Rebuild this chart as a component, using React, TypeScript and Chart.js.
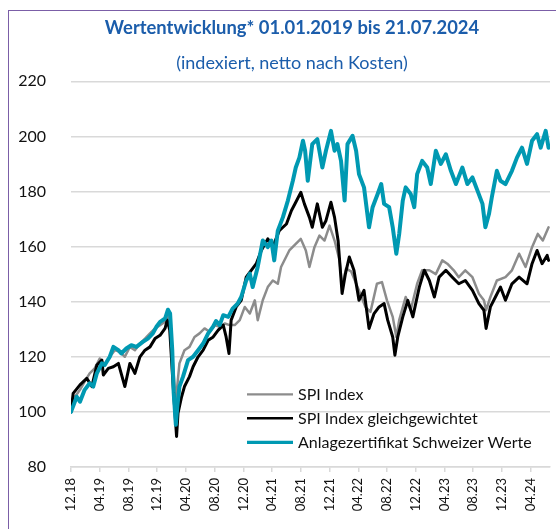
import { useEffect, useRef } from "react";
import { Chart, registerables } from "chart.js";

Chart.register(...registerables);

// Axis ticks (months since 31.12.2018)
const tickMonths = [0, 4, 8, 12, 16, 20, 24, 28, 32, 36, 40, 44, 48, 52, 56, 60, 64];
const tickLabels = ["12.18", "04.19", "08.19", "12.19", "04.20", "08.20", "12.20", "04.21", "08.21", "12.21", "04.22", "08.22", "12.22", "04.23", "08.23", "12.23", "04.24"];

// SPI Index
const spiMonths = [0, 0.55, 1.25, 1.9, 2.6, 3.3, 4.0, 4.7, 5.4, 6.1, 6.8, 7.5, 8.2, 8.9, 9.6, 10.3, 11.0, 11.7, 12.4, 13.1, 13.5, 13.9, 14.4, 14.6, 15.1, 15.8, 16.5, 17.2, 17.9, 18.6, 19.3, 20.0, 20.7, 21.4, 22.1, 22.8, 23.5, 24.2, 24.9, 25.6, 26.0, 26.7, 27.4, 28.1, 28.8, 29.25, 30.4, 31.3, 32.0, 32.7, 33.2, 33.9, 34.6, 35.3, 36.0, 36.7, 37.4, 37.75, 38.3, 39.0, 40.1, 41.0, 41.7, 42.6, 43.3, 44.0, 44.8, 45.3, 45.7, 46.6, 47.3, 48.2, 48.9, 49.9, 50.8, 51.7, 52.4, 53.3, 54.0, 54.9, 55.9, 56.8, 57.5, 57.8, 58.4, 59.3, 60.5, 61.4, 62.4, 63.3, 64.2, 65.0, 65.7, 66.5];
const spiValues = [100, 105.5, 108, 111, 114, 115.8, 119.4, 117, 120, 122.4, 121.8, 120, 123.6, 122.4, 124.8, 126.6, 128.5, 130.3, 131.5, 132.7, 135.7, 127.2, 110.4, 104, 117.6, 122.4, 123.6, 127.2, 128.5, 130.3, 129.1, 131.5, 130.9, 132.1, 131.5, 131.5, 133.3, 138.1, 135.7, 140.5, 133.3, 140.5, 145.3, 147.7, 146.5, 152.6, 158.6, 161, 162.8, 158.6, 152.6, 159.8, 164, 162.2, 167.6, 162.2, 155, 145.3, 152, 151, 144.1, 138.1, 136.3, 146.5, 147.1, 140.5, 134.5, 127.2, 133.3, 141.7, 136.9, 146.5, 151.4, 151.4, 150, 155, 153.8, 151.4, 148.9, 151.4, 148.9, 142.9, 140.5, 136.9, 141.7, 147.7, 148.9, 151.4, 157.4, 152.6, 159.8, 164.6, 162.2, 167];

// SPI Index gleichgewichtet
const equalMonths = [0, 0.3, 1.25, 2.2, 2.9, 3.6, 4.3, 4.5, 5.2, 5.9, 6.6, 7.5, 8.2, 8.9, 9.6, 10.3, 11.0, 11.7, 12.4, 13.1, 13.4, 13.75, 14.2, 14.7, 14.9, 15.4, 15.8, 16.5, 17.0, 17.7, 18.4, 19.1, 19.8, 20.5, 21.2, 21.6, 22.0, 22.3, 23.0, 23.7, 24.4, 25.1, 25.8, 26.5, 27.4, 28.1, 29.0, 30.0, 30.7, 31.3, 32.0, 32.5, 33.2, 33.6, 34.3, 35.0, 35.5, 36.2, 36.7, 37.2, 37.75, 38.2, 38.75, 39.4, 40.1, 40.8, 41.5, 42.2, 42.9, 43.6, 44.1, 44.8, 45.1, 45.5, 46.2, 46.9, 47.6, 48.5, 49.2, 49.9, 50.6, 51.25, 52.2, 53.1, 54.0, 54.9, 55.9, 56.8, 57.5, 57.8, 58.4, 59.1, 59.8, 60.5, 61.4, 62.4, 63.5, 64.2, 64.9, 65.6, 66.3, 66.5];
const equalValues = [100, 106.7, 109.8, 112.2, 109.2, 117, 118.8, 113.4, 115.8, 116.4, 117.6, 109.2, 117.6, 114, 120, 122.4, 123.6, 126.6, 127.8, 130.3, 133.3, 129.7, 110.4, 91.1, 99.5, 105.5, 109.2, 112.8, 116.4, 120, 122.4, 126, 127.2, 129.7, 131.5, 127.2, 121.2, 133.3, 138.1, 140.5, 148.9, 151.4, 153.8, 158.6, 162.8, 159.8, 165.8, 168.2, 173.1, 176.1, 179.7, 175.5, 170.6, 167, 175.5, 167, 169.4, 176.1, 170.6, 162, 143, 150, 156.2, 151.4, 140.5, 144.1, 130.3, 135.7, 138.1, 139.3, 133.3, 127.2, 120.6, 127.2, 134.5, 140.5, 134.5, 145.3, 151.4, 147.7, 141.7, 148.9, 151.4, 148.9, 146.5, 147.7, 144.1, 139.3, 136.9, 130.3, 138.1, 141.7, 145.3, 140.5, 146.5, 148.9, 146.5, 153.8, 158.6, 153.8, 156.8, 155];

// Anlagezertifikat Schweizer Werte
const certMonths = [0, 0.8, 1.25, 1.9, 2.6, 3.1, 3.6, 4.3, 4.7, 5.4, 5.9, 6.6, 7.0, 7.7, 8.4, 9.1, 10.0, 10.7, 11.4, 11.9, 12.4, 13.1, 13.5, 13.8, 14.1, 14.3, 14.6, 14.8, 15.1, 15.6, 16.3, 17.0, 17.7, 18.4, 19.1, 19.8, 20.2, 20.7, 21.2, 21.9, 22.5, 23.2, 23.7, 24.4, 24.9, 25.3, 26.0, 26.7, 27.4, 27.9, 28.3, 28.8, 29.5, 30.2, 30.9, 31.3, 31.8, 32.3, 32.6, 32.97, 33.6, 34.3, 35.0, 35.5, 36.2, 36.7, 37.1, 37.6, 38.1, 38.5, 39.2, 39.7, 40.1, 40.8, 41.5, 42.0, 42.7, 43.2, 43.6, 44.3, 44.8, 45.3, 45.7, 46.2, 46.6, 47.3, 47.8, 48.2, 48.9, 49.6, 50.1, 50.8, 51.5, 52.2, 52.9, 53.6, 54.5, 55.2, 55.9, 56.6, 57.3, 57.7, 58.2, 58.6, 59.3, 59.8, 60.5, 61.4, 62.1, 62.8, 63.5, 64.2, 64.9, 65.4, 66.1, 66.5];
const certValues = [100, 105.5, 103.7, 108, 110.4, 109.2, 114, 117.6, 117, 120, 123.6, 122.4, 121.2, 123, 124.2, 123.6, 125.4, 126.6, 128.5, 130.9, 132.7, 133.9, 137.1, 135.7, 122.4, 106.9, 95.3, 101.9, 109.2, 112.8, 118.8, 120, 122.4, 124.8, 128.5, 131, 133, 131.5, 135.1, 134.5, 137.5, 139.3, 141.7, 147.7, 150.2, 145.3, 152.6, 162.2, 159.8, 162.2, 155, 165.8, 170.6, 176.7, 184, 188.7, 192.3, 198.4, 194.8, 183.9, 197.2, 199, 188.7, 194.8, 202, 194.8, 197.2, 191.1, 176.7, 197.2, 200.2, 194.8, 186.3, 181.5, 167, 174.3, 179.1, 182.7, 175.5, 174.3, 167, 157.4, 164.6, 176.7, 181.5, 179.1, 174.3, 186.3, 191.1, 188.7, 182.7, 194.8, 190, 193.5, 187.5, 182.7, 188.7, 182.7, 185.1, 180.3, 175.5, 167, 171.8, 177.9, 187.5, 183.9, 182.7, 187.5, 192.3, 195.9, 190, 198.4, 200.8, 195.9, 202, 195.9];

const FONT = "Lato, 'Liberation Sans', sans-serif";
const TITLE_BLUE = "#1B5DAB";

const toPoints = (xs: number[], ys: number[]) => xs.map((x, i) => ({ x, y: ys[i] }));

// let the y tick labels extend left of the layout padding (no clipping)
const widenYAxis = {
  id: "widenYAxis",
  afterLayout(chart: any) {
    const y = chart.scales.y;
    if (y) y.left = 0;
  },
};

const innerLegend = {
  id: "innerLegend",
  afterDraw(chart: any) {
    const { ctx, chartArea } = chart;
    const x0 = chartArea.left + 176;
    chart.data.datasets.forEach((ds: any, i: number) => {
      const y = chartArea.top + 313 + i * 24;
      ctx.save();
      ctx.strokeStyle = ds.borderColor;
      ctx.lineWidth = ds.legendWidth;
      ctx.beginPath();
      ctx.moveTo(x0, y);
      ctx.lineTo(x0 + 46, y);
      ctx.stroke();
      ctx.fillStyle = "#111111";
      ctx.font = `16px ${FONT}`;
      ctx.textBaseline = "middle";
      ctx.textAlign = "left";
      ctx.fillText(ds.label, x0 + 51, y + 1);
      ctx.restore();
    });
  },
};

export default function App() {
  const ref = useRef<HTMLCanvasElement>(null);
  useEffect(() => {
    const chart = new Chart(ref.current as HTMLCanvasElement, {
      type: "line",
      data: {
        datasets: [
          { label: "SPI Index", data: toPoints(spiMonths, spiValues), borderColor: "#8C8C8C", borderWidth: 2.5, legendWidth: 2.2, order: 2 } as any,
          { label: "SPI Index gleichgewichtet", data: toPoints(equalMonths, equalValues), borderColor: "#000000", borderWidth: 3, legendWidth: 2.5, order: 1 } as any,
          { label: "Anlagezertifikat Schweizer Werte", data: toPoints(certMonths, certValues), borderColor: "#0099B2", borderWidth: 4, legendWidth: 3.2, order: 0 } as any,
        ],
      },
      options: {
        responsive: false,
        animation: false,
        layout: { padding: { left: 34, right: 6, top: 0, bottom: 0 } },
        elements: {
          point: { radius: 0 },
          line: { tension: 0, borderJoinStyle: "round", borderCapStyle: "round" },
        },
        scales: {
          x: {
            type: "linear",
            min: 0,
            max: 66.7,
            afterBuildTicks: (s: any) => {
              s.ticks = tickMonths.map((v) => ({ value: v }));
            },
            afterFit: (s: any) => {
              s.height = 62;
            },
            grid: { drawOnChartArea: false, drawTicks: true, tickLength: 5, color: "#D9D9D9", lineWidth: 1.5 },
            border: { display: true, color: "#D9D9D9", width: 1.5 },
            ticks: {
              autoSkip: false,
              minRotation: 90,
              maxRotation: 90,
              padding: 6,
              color: "#111111",
              font: { family: FONT, size: 13 },
              callback: (_v: any, i: number) => tickLabels[i],
            },
          },
          y: {
            min: 80,
            max: 220,
            afterFit: (s: any) => {
              s.width = 37;
            },
            ticks: { stepSize: 20, padding: 25, color: "#111111", font: { family: FONT, size: 16 } },
            grid: { color: "#D9D9D9", lineWidth: 1.5, drawTicks: false },
            border: { display: false },
          },
        },
        plugins: {
          legend: { display: false },
          tooltip: { enabled: false },
          title: {
            display: true,
            text: "Wertentwicklung* 01.01.2019 bis 21.07.2024",
            color: TITLE_BLUE,
            font: { family: FONT, size: 18.4, weight: "bold" },
            padding: { top: 17.4, bottom: 6 },
          },
          subtitle: {
            display: true,
            text: "(indexiert, netto nach Kosten)",
            color: TITLE_BLUE,
            font: { family: FONT, size: 18, weight: "normal" },
            padding: { top: 6.6, bottom: 7.6 },
          },
        },
      } as any,
      plugins: [widenYAxis, innerLegend],
    });
    return () => chart.destroy();
  }, []);

  return (
    <div style={{ position: "absolute", left: 0, top: 0, width: 556, height: 529, background: "#ffffff", overflow: "hidden" }}>
      <canvas ref={ref} width={556} height={529} style={{ display: "block" }} />
      <div
        style={{
          position: "absolute",
          left: 8,
          top: 10,
          right: 0,
          bottom: 0,
          borderLeft: "1px solid #7B5EA7",
          borderTop: "1px solid #7B5EA7",
          pointerEvents: "none",
        }}
      />
    </div>
  );
}
